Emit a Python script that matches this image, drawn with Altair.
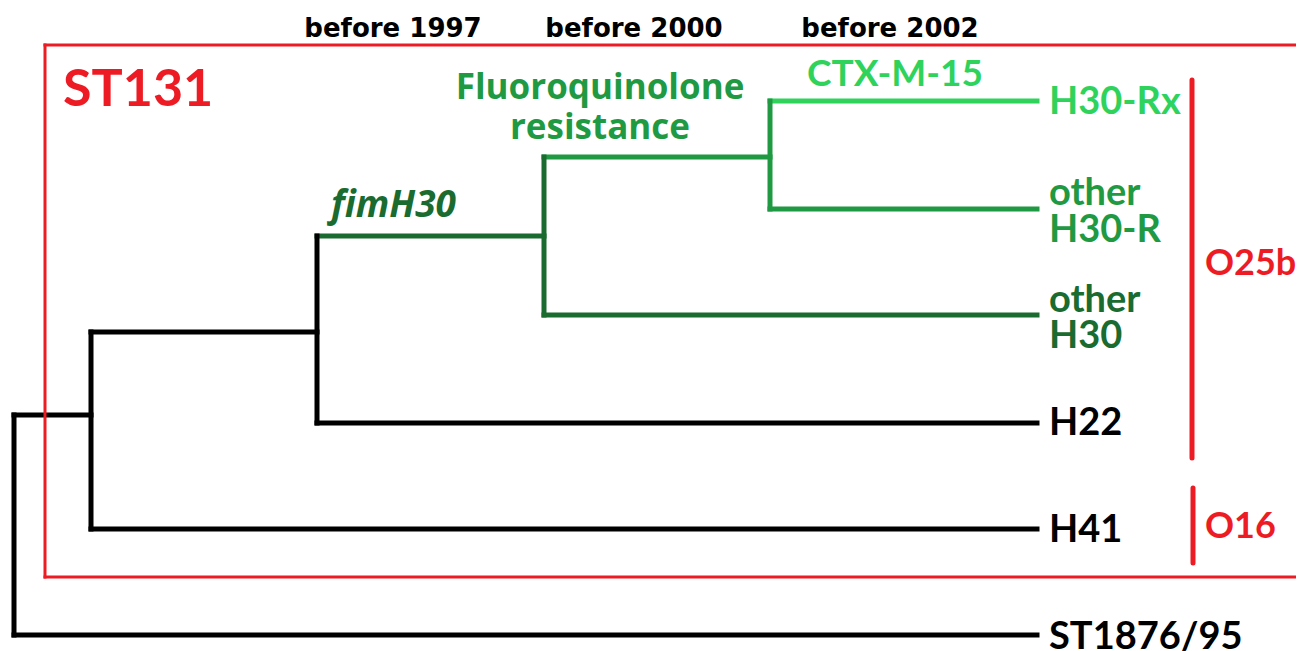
import altair as alt
import pandas as pd

# ---- tree data: horizontal branches (x1 -> x2 at row y) ----
h_x1 = [14, 14, 91, 91, 317, 317, 544, 544, 770, 770]
h_x2 = [91, 1037, 317, 1037, 544, 1037, 770, 1037, 1037, 1037]
h_y = [415, 635, 332, 529, 236, 423, 157, 315, 101, 209]
h_col = ["black", "black", "black", "black", "dark", "black", "mid", "dark", "light", "mid"]

# ---- vertical connectors (x, from y1 to y2) ----
v_x = [14, 91, 317, 544, 770]
v_y1 = [415, 332, 236, 157, 101]
v_y2 = [635, 529, 423, 315, 209]
v_col = ["black", "black", "black", "dark", "mid"]

# ---- leaf labels ----
leaf_text = ["H30-Rx", "other", "H30-R", "other", "H30", "H22", "H41", "ST1876/95"]
leaf_x = [1049] * 8
leaf_y = [114, 205, 242, 312, 348, 435, 542, 649]
leaf_col = ["light", "mid", "mid", "dark", "dark", "black", "black", "black"]

# ---- serotype groups ----
sero_text = ["O25b", "O16"]
sero_tx = [1205, 1205]
sero_ty = [275, 538]
bar_x = [1192, 1193]
bar_y1 = [80, 488]
bar_y2 = [458, 563]

# ---- time labels ----
time_text = ["before 1997", "before 2000", "before 2002"]
time_x = [393, 634, 890]
time_y = [37, 37, 37]

# ---- event labels ----
fq_text = ["Fluoroquinolone", "resistance"]
fq_x = [600, 600]
fq_y = [99, 139]

ctx_text = ["CTX-M-15"]
ctx_x = [895]
ctx_y = [86]

fim_text = ["fimH30"]
fim_x = [331]
fim_y = [217]

# ---- ST131 box ----
box_x1 = [45, 45, 45]
box_x2 = [1310, 45, 1310]
box_y1 = [45, 45, 577]
box_y2 = [45, 577, 577]

palette = {"black": "#000000", "dark": "#1a6b2f", "mid": "#1f9a43",
           "light": "#2fd35c", "red": "#ed1c24"}

W, H = 1288, 643
xs = alt.Scale(domain=[8, 8 + W], nice=False, zero=False)
ys = alt.Scale(domain=[8, 8 + H], nice=False, zero=False, reverse=True)

def X(f):
    return alt.X(f, type="quantitative", scale=xs, axis=None)

def Y(f):
    return alt.Y(f, type="quantitative", scale=ys, axis=None)

horiz = pd.DataFrame({"x": h_x1, "x2": h_x2, "y": h_y,
                      "c": [palette[c] for c in h_col]})
vert = pd.DataFrame({"x": v_x, "y": v_y1, "y2": v_y2,
                     "c": [palette[c] for c in v_col]})

h_layer = alt.Chart(horiz).mark_rule(strokeWidth=5, strokeCap="square").encode(
    x=X("x"), x2="x2", y=Y("y"), color=alt.Color("c:N", scale=None))
v_layer = alt.Chart(vert).mark_rule(strokeWidth=5, strokeCap="square").encode(
    x=X("x"), y=Y("y"), y2="y2", color=alt.Color("c:N", scale=None))

box = pd.DataFrame({"x": box_x1, "x2": box_x2, "y": box_y1, "y2": box_y2})
box_layer = alt.Chart(box).mark_rule(strokeWidth=3, color=palette["red"], strokeCap="square").encode(
    x=X("x"), x2="x2", y=Y("y"), y2="y2")

bars = pd.DataFrame({"x": bar_x, "y": bar_y1, "y2": bar_y2})
bar_layer = alt.Chart(bars).mark_rule(strokeWidth=5, color=palette["red"], strokeCap="round").encode(
    x=X("x"), y=Y("y"), y2="y2")

leaves = pd.DataFrame({"t": leaf_text, "x": leaf_x, "y": leaf_y,
                       "c": [palette[c] for c in leaf_col]})
leaf_layer = alt.Chart(leaves).mark_text(font="Lato", fontWeight="bold", fontSize=38,
                                         align="left", baseline="alphabetic").encode(
    x=X("x"), y=Y("y"), text="t:N", color=alt.Color("c:N", scale=None))

sero = pd.DataFrame({"t": sero_text, "x": sero_tx, "y": sero_ty})
sero_layer = alt.Chart(sero).mark_text(font="Lato", fontWeight="bold", fontSize=36,
                                       align="left", baseline="alphabetic",
                                       color=palette["red"]).encode(
    x=X("x"), y=Y("y"), text="t:N")

times = pd.DataFrame({"t": time_text, "x": time_x, "y": time_y})
time_layer = alt.Chart(times).mark_text(font="DejaVu Sans", fontWeight="bold", fontSize=26,
                                        align="center", baseline="alphabetic",
                                        color="#000000").encode(
    x=X("x"), y=Y("y"), text="t:N")

fq = pd.DataFrame({"t": fq_text, "x": fq_x, "y": fq_y})
fq_layer = alt.Chart(fq).mark_text(font="Open Sans", fontWeight="bold", fontSize=35,
                                   align="center", baseline="alphabetic",
                                   color=palette["mid"]).encode(
    x=X("x"), y=Y("y"), text="t:N")

ctx = pd.DataFrame({"t": ctx_text, "x": ctx_x, "y": ctx_y})
ctx_layer = alt.Chart(ctx).mark_text(font="Lato", fontWeight="bold", fontSize=37,
                                     align="center", baseline="alphabetic",
                                     color=palette["light"]).encode(
    x=X("x"), y=Y("y"), text="t:N")

fim = pd.DataFrame({"t": fim_text, "x": fim_x, "y": fim_y})
fim_layer = alt.Chart(fim).mark_text(font="Open Sans", fontWeight="bold", fontStyle="italic",
                                     fontSize=37, align="left", baseline="alphabetic",
                                     color=palette["dark"]).encode(
    x=X("x"), y=Y("y"), text="t:N")

st = pd.DataFrame({"t": ["ST131"], "x": [63], "y": [106]})
st_layer = alt.Chart(st).mark_text(font="Lato", fontWeight="bold", fontSize=52,
                                   align="left", baseline="alphabetic",
                                   color=palette["red"]).encode(
    x=X("x"), y=Y("y"), text="t:N")

chart = alt.layer(h_layer, v_layer, box_layer, bar_layer, leaf_layer, sero_layer,
                  time_layer, fq_layer, ctx_layer, fim_layer, st_layer).properties(
    width=W, height=H, padding=0, autosize=alt.AutoSizeParams(type="none"),
    background="white"
).configure_view(stroke=None)

chart.save("out.html", embed_options={"renderer": "svg", "actions": False})
